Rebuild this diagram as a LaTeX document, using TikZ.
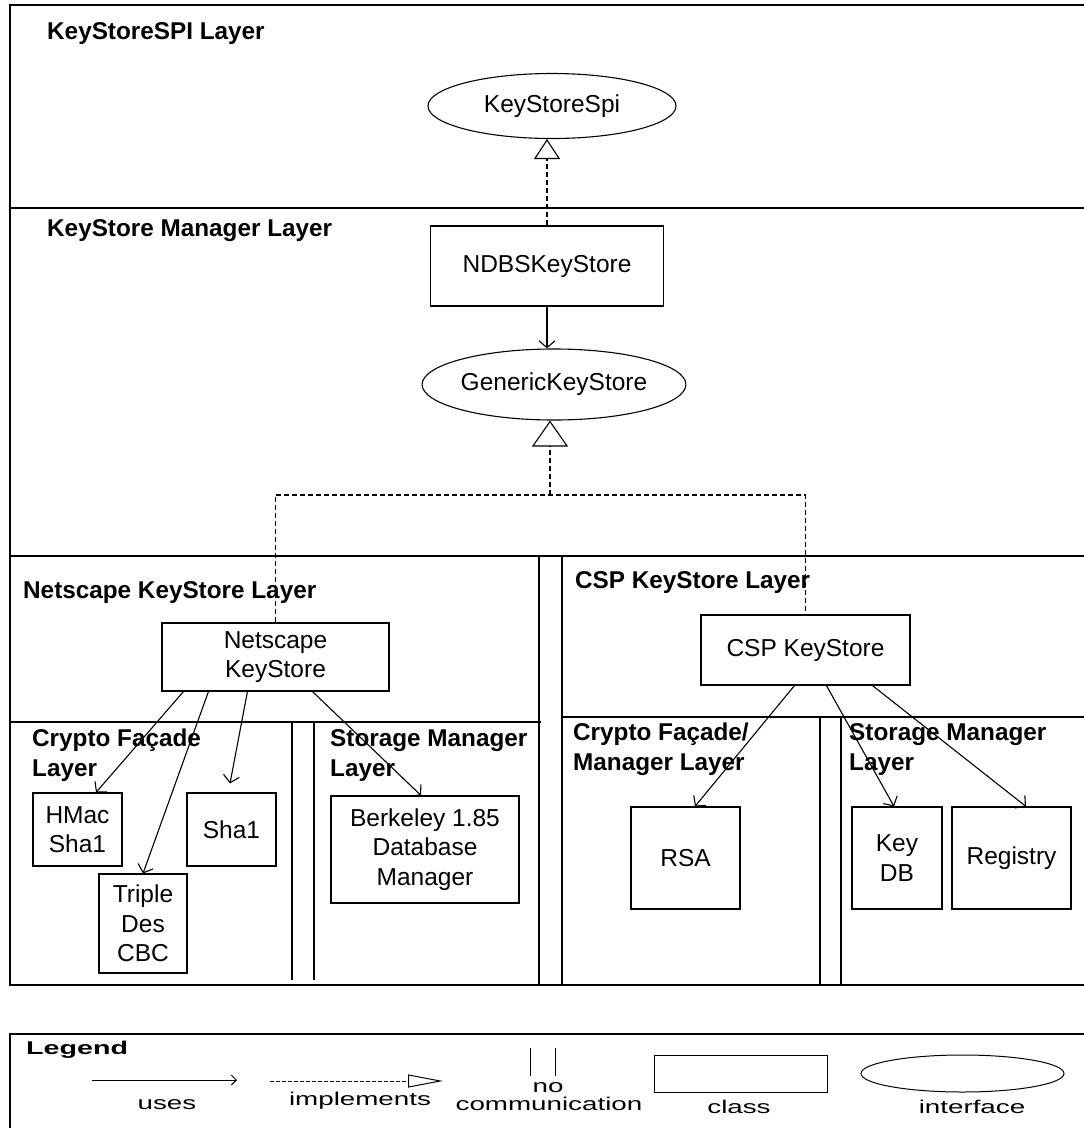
\documentclass[tikz,border=0pt]{standalone}
\usepackage{fontspec}
\usepackage{graphicx}
\setmainfont{Liberation Sans}
\usetikzlibrary{arrows.meta,shapes.geometric,calc}
\begin{document}
\begin{tikzpicture}[x=1pt,y=-1pt,
  frame/.style={line width=1.4pt},
  lbl/.style={anchor=base west, inner sep=0pt, font=\fontsize{24.3}{28}\selectfont\bfseries},
  cls/.style={draw, line width=1.1pt, inner sep=0pt, font=\fontsize{24.5}{29.5}\selectfont, align=center},
  ifc/.style={draw, ellipse, line width=1.1pt, inner sep=0pt, font=\fontsize{24.5}{28}\selectfont},
  uses/.style={line width=1.1pt, -{Straight Barb[length=7pt,width=16pt]}},
  dline/.style={line width=1.1pt, dash pattern=on 5pt off 3pt},
  impl/.style={dline, -{Triangle[open,length=26pt,width=36pt]}},
  implsmall/.style={dline, -{Triangle[open,length=20pt,width=26pt]}},
  legtxt/.style={anchor=base, inner sep=0pt, font=\fontsize{18.5}{20}\selectfont},
]
\useasboundingbox[fill=white] (0,0) rectangle (1084,1128);
\clip (0,0) rectangle (1084,1128);

% ---------- layer frames ----------
\draw[frame] (1100,5) -- (10,5) -- (10,985) -- (1100,985);
\draw[frame] (10,208) -- (1100,208);
\draw[frame] (10,556) -- (1100,556);
\draw[frame] (539,556) -- (539,985);
\draw[frame] (562,556) -- (562,985);
\draw[frame] (10,722) -- (541,722);
\draw[frame] (562,717) -- (1100,717);
\draw[frame] (292,722) -- (292,980);
\draw[frame] (314,722) -- (314,980);
\draw[frame] (820,717) -- (820,985);
\draw[frame] (841,717) -- (841,985);

% ---------- layer labels ----------
\node[lbl] (l1) at (47,39) {KeyStoreSPI Layer};
\node[lbl] (l2) at (47,236) {KeyStore Manager Layer};
\node[lbl] (l3) at (23,598) {Netscape KeyStore Layer};
\node[lbl] (l4) at (575,588) {CSP KeyStore Layer};
\node[lbl] (l5) at (32,746) {Crypto Façade};
\node[lbl] (l5b) at (32,776) {Layer};
\node[lbl] (l6) at (330,746) {Storage Manager};
\node[lbl] (l6b) at (330,776) {Layer};
\node[lbl] (l7) at (573,740) {Crypto Façade/};
\node[lbl] (l7b) at (573,770) {Manager Layer};
\node[lbl] (l8) at (849,740) {Storage Manager};
\node[lbl] (l8b) at (849,770) {Layer};

% ---------- classes and interfaces ----------
\node[ifc, minimum width=248pt, minimum height=65pt] (ks) at (552,106) {KeyStoreSpi};
\node[cls, minimum width=233pt, minimum height=80pt] (ndbs) at (547,266) {NDBSKeyStore};
\node[ifc, minimum width=257pt, minimum height=71pt] (gen) at (554,384.5) {GenericKeyStore};
\node[cls, minimum width=227pt, minimum height=68pt] (nk) at (275.5,657) {Netscape\\KeyStore};
\node[cls, minimum width=209pt, minimum height=70pt] (csp) at (805.5,650) {CSP KeyStore};
\node[cls, minimum width=89pt, minimum height=73pt] (hmac) at (77.5,829.5) {HMac\\Sha1};
\node[cls, minimum width=89pt, minimum height=73pt] (sha) at (231.5,829.5) {Sha1};
\node[cls, minimum width=88pt, minimum height=99pt] (tdes) at (143,923.5) {Triple\\Des\\CBC};
\node[cls, minimum width=188pt, minimum height=107pt] (berk) at (425,849.5) {Berkeley 1.85\\Database\\Manager};
\node[cls, minimum width=109pt, minimum height=102pt] (rsa) at (685.5,858) {RSA};
\node[cls, minimum width=90pt, minimum height=102pt] (keydb) at (897,858) {Key\\DB};
\node[cls, minimum width=119pt, minimum height=102pt] (reg) at (1011.5,858) {Registry};

% ---------- connectors ----------
\draw[implsmall] (ndbs.north) -- (ndbs.north |- ks.south);
\draw[uses] (ndbs.south) -- (ndbs.south |- gen.north);
\coordinate (j) at (550,495);
\draw[dline] (nk.north) -- (nk.north |- j) -- (csp.north |- j) -- (csp.north);
\draw[impl] (j) -- (j |- gen.south);

\draw[uses] ([xshift=22pt]nk.south west) -- ([xshift=18.5pt]hmac.north);
\draw[uses] ([xshift=47pt]nk.south west) -- (tdes.north);
\draw[uses] ([xshift=86pt]nk.south west) -- ([xshift=-1.5pt,yshift=9pt]sha.north);
\draw[uses] ([xshift=151pt]nk.south west) -- ([xshift=-4pt]berk.north);

\draw[uses] ([xshift=94pt]csp.south west) -- ([xshift=9.5pt]rsa.north);
\draw[uses] ([xshift=126pt]csp.south west) -- ([xshift=-3pt]keydb.north);
\draw[uses] ([xshift=172pt]csp.south west) -- ([xshift=14.5pt]reg.north);

% ---------- legend ----------
\draw[frame] (1100,1034) -- (10,1034) -- (10,1140);
\node[anchor=base west, inner sep=0pt, font=\fontsize{18.5}{20}\selectfont\bfseries] (lg) at (26,1054) {\scalebox{1.55}[1]{Legend}};
\coordinate (u1) at (92,1080);
\coordinate (u2) at (237,1080);
\draw[line width=1pt, -{Straight Barb[length=5pt,width=10pt]}] (u1) -- (u2);
\node[legtxt] (tu) at (167,1109) {\scalebox{1.5}[1]{uses}};
\coordinate (i1) at (270,1081);
\coordinate (i2) at (443,1081);
\draw[line width=1pt, dash pattern=on 4pt off 2pt, -{Triangle[open,length=35pt,width=13pt]}] (i1) -- (i2);
\node[legtxt] (ti) at (360,1105) {\scalebox{1.5}[1]{implements}};
\draw[line width=1pt] (530,1048) -- (530,1076);
\draw[line width=1pt] (555,1048) -- (555,1076);
\node[legtxt] (tn) at (548,1092) {\scalebox{1.5}[1]{no}};
\node[legtxt] (tc) at (549,1110) {\scalebox{1.5}[1]{communication}};
\node[draw, line width=1pt, minimum width=173pt, minimum height=37pt, inner sep=0pt] (lcls) at (740.5,1073.5) {};
\node[legtxt] (tcl) at (739,1113) {\scalebox{1.5}[1]{class}};
\node[draw, ellipse, line width=1pt, minimum width=203pt, minimum height=37pt, inner sep=0pt] (lifc) at (962.5,1073.5) {};
\node[legtxt] (tif) at (972,1113) {\scalebox{1.5}[1]{interface}};
\end{tikzpicture}
\end{document}
